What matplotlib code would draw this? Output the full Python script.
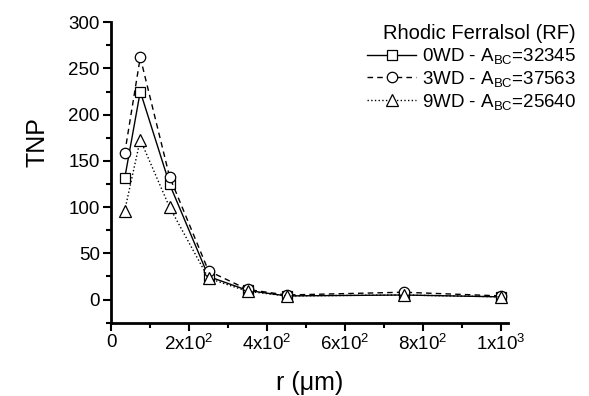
import matplotlib
matplotlib.use("Agg")
import matplotlib.pyplot as plt
from matplotlib.ticker import MultipleLocator, FixedLocator

plt.rcParams['font.family'] = ['Liberation Sans', 'DejaVu Sans']
plt.rcParams['mathtext.fontset'] = 'custom'
plt.rcParams['mathtext.rm'] = 'Liberation Sans'
plt.rcParams['mathtext.it'] = 'Liberation Sans'

r = [35, 75, 150, 250, 350, 450, 750, 1000]
tnp_0wd = [131, 225, 125, 25, 10, 4, 5, 3]
tnp_3wd = [158, 262, 133, 31, 11, 5, 8, 4]
tnp_9wd = [96, 173, 100, 23, 9, 4, 5, 3]
labels = ['0WD - A$_{\\mathrm{BC}}$=32345',
          '3WD - A$_{\\mathrm{BC}}$=37563',
          '9WD - A$_{\\mathrm{BC}}$=25640']
xtick_vals = [0, 200, 400, 600, 800, 1000]
xtick_labels = ['0', '2x10$^{2}$', '4x10$^{2}$', '6x10$^{2}$', '8x10$^{2}$', '1x10$^{3}$']

fig = plt.figure(figsize=(5.89, 3.96), dpi=100)
ax = fig.add_axes([0.1885, 0.185, 0.674, 0.759])

ms = 7.5
ax.plot(r, tnp_0wd, '-', color='black', lw=1.0, marker='s', ms=ms,
        mfc='white', mec='black', mew=0.9, label=labels[0])
ax.plot(r, tnp_3wd, '--', color='black', lw=1.0, marker='o', ms=ms,
        mfc='white', mec='black', mew=0.9, label=labels[1], dashes=(4, 3))
ax.plot(r, tnp_9wd, ':', color='black', lw=1.0, marker='^', ms=ms + 1,
        mfc='white', mec='black', mew=0.9, label=labels[2])

ax.set_xlim(0, 1018)
ax.set_ylim(-25, 300)
ax.xaxis.set_major_locator(FixedLocator(xtick_vals))
ax.set_xticklabels(xtick_labels)
ax.xaxis.set_minor_locator(MultipleLocator(100))
ax.set_yticks([0, 50, 100, 150, 200, 250, 300])
ax.yaxis.set_minor_locator(MultipleLocator(25))

for s in ['top', 'right']:
    ax.spines[s].set_visible(False)
for s in ['left', 'bottom']:
    ax.spines[s].set_linewidth(2.0)

ax.tick_params(which='major', direction='out', length=6, width=1.5, labelsize=13.5, pad=2)
ax.tick_params(which='minor', direction='out', length=3.5, width=1.5)

ax.set_xlabel('r (\u03bcm)', fontsize=18, labelpad=12)
ax.set_ylabel('TNP', fontsize=18)
ax.yaxis.set_label_coords(-0.155, 0.6)

leg = ax.legend(title='Rhodic Ferralsol (RF)', frameon=False, fontsize=13.5,
                title_fontsize=14.5, loc='upper right', bbox_to_anchor=(1.19, 1.018),
                handlelength=2.6, handletextpad=0.3, labelspacing=0.15,
                borderaxespad=0.0, alignment='right')

fig.savefig('out.png', dpi=100)
